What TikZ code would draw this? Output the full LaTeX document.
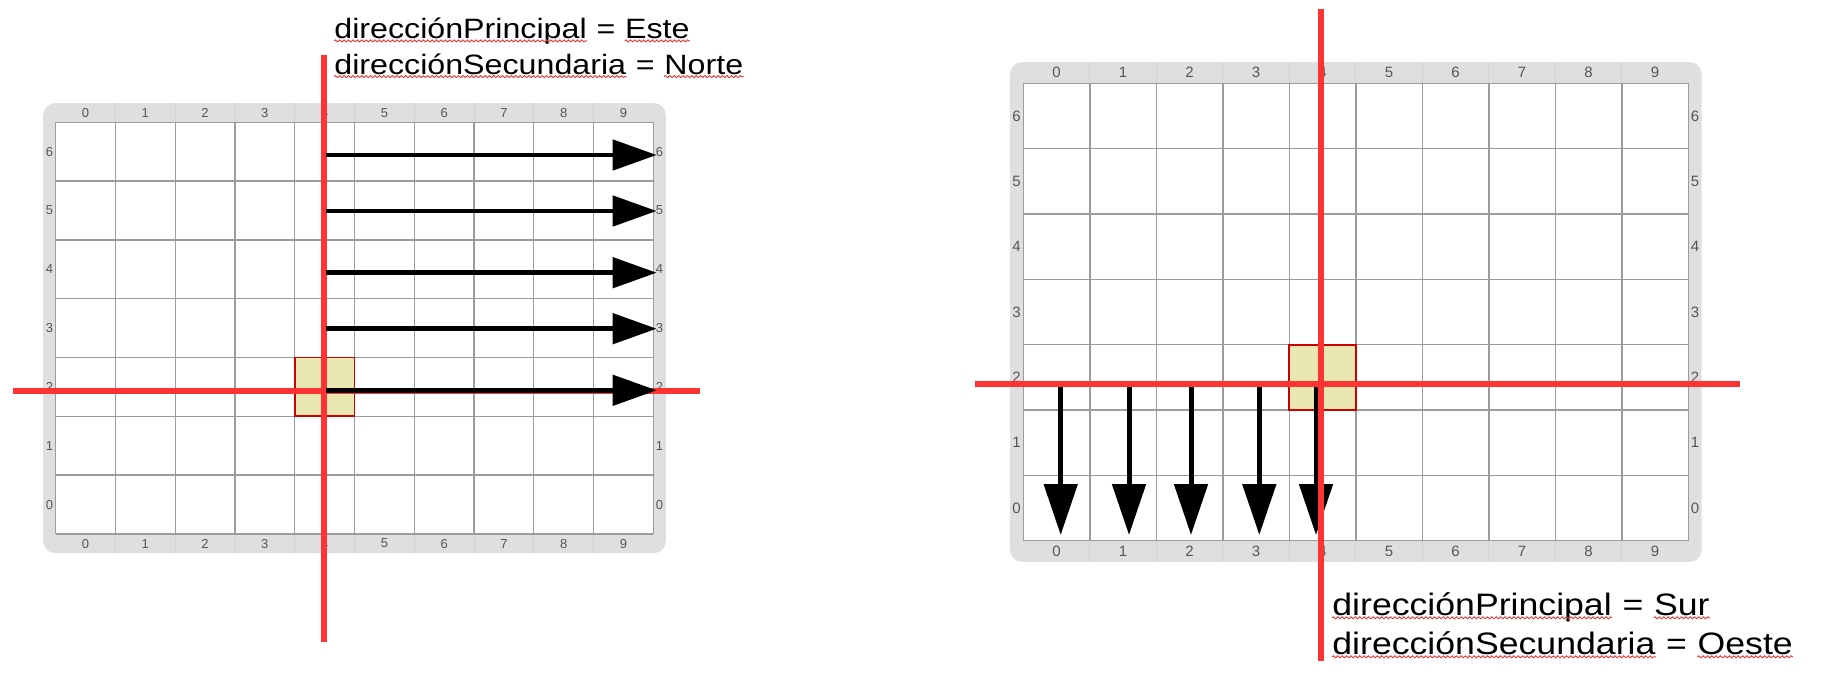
\documentclass[tikz,border=0pt]{standalone}
\usepackage{fontspec}
\setmainfont{Liberation Sans}
\newfontfamily\wfont[FakeStretch=1.15]{Liberation Sans}
\usetikzlibrary{arrows.meta,decorations.pathmorphing}
\definecolor{redl}{HTML}{FF3333}
\definecolor{bandgray}{HTML}{DFDFDF}
\definecolor{bandsep}{HTML}{D2D2D2}
\definecolor{gridgray}{HTML}{9C9C9C}
\definecolor{cellyellow}{HTML}{EAE8B0}
\definecolor{celledge}{HTML}{CC0000}
\definecolor{labgray}{HTML}{555555}
\definecolor{squigred}{HTML}{E53935}
\tikzset{
  redline/.style={draw=redl, line width=2.8pt},
  gridline/.style={draw=gridgray, line width=0.7pt},
  bandline/.style={draw=bandsep, line width=0.4pt},
  bandfill/.style={fill=bandgray, rounded corners=6pt},
  cellbox/.style={fill=cellyellow, draw=celledge, line width=0.9pt},
  numlab/.style={text=labgray, inner sep=0pt, font=\fontsize{#1}{#1}\selectfont},
  arrA/.style={line width=2.4pt, -{Triangle[length=22pt,width=15pt]}},
  arrB/.style={line width=2.5pt, -{Triangle[length=25.5pt,width=16.5pt]}},
  wordA/.style={inner sep=0pt, anchor=base west, font=\wfont\fontsize{14}{16}\selectfont},
  wordB/.style={inner sep=0pt, anchor=base west, font=\wfont\fontsize{15.5}{18}\selectfont},
  squiggle/.style={draw=squigred, line width=0.45pt, decorate,
    decoration={snake, amplitude=0.5pt, segment length=2.2pt}},
}
% #1 name, #2 x0, #3 y0, #4 cell width, #5 row height, #6 side band, #7 top band, #8 font size
\newcommand\mygrid[8]{%
  \fill[bandfill] ({#2-#6},{#3-#7}) rectangle ({#2+10*#4+#6},{#3+7*#5+#7});
  \fill[white] (#2,#3) rectangle ({#2+10*#4},{#3+7*#5});
  \foreach \i in {1,...,9}{
    \draw[bandline] ({#2+\i*#4},{#3-#7}) -- ({#2+\i*#4},#3);
    \draw[bandline] ({#2+\i*#4},{#3+7*#5}) -- ({#2+\i*#4},{#3+7*#5+#7});
  }
  \foreach \i in {0,...,10}{
    \draw[gridline] ({#2+\i*#4},#3) -- ({#2+\i*#4},{#3+7*#5});
  }
  \foreach \j in {0,...,7}{
    \draw[gridline] (#2,{#3+\j*#5}) -- ({#2+10*#4},{#3+\j*#5});
  }
  \foreach \i in {0,...,9}{
    \node[numlab=#8] (#1-t\i) at ({#2+(\i+0.5)*#4},{#3-#7/2}) {\i};
    \node[numlab=#8] (#1-b\i) at ({#2+(\i+0.5)*#4},{#3+7*#5+#7/2}) {\i};
  }
  \foreach \j in {0,...,6}{
    \node[numlab=#8] (#1-l\j) at ({#2-#6/2},{#3+(6.5-\j)*#5}) {\j};
    \node[numlab=#8] (#1-r\j) at ({#2+10*#4+#6/2},{#3+(6.5-\j)*#5}) {\j};
  }
}
\begin{document}
\begin{tikzpicture}[x=0.5pt,y=-0.5pt]
\useasboundingbox (0,0) rectangle (1821,686);
\fill[white] (0,0) rectangle (1821,686);

% ---------------- left picture ----------------
\mygrid{L}{55.7}{122.3}{59.76}{58.81}{12.5}{19.2}{6.5}
\draw[cellbox] (294.74,357.54) rectangle (354.5,416.35);
\coordinate (Lv1) at (324,55);
\coordinate (Lv2) at (324,641.7);
\coordinate (Lh1) at (12.7,391);
\coordinate (Lh2) at (700,391);
\draw[redline] (Lv1) -- (Lv2);
\draw[redline] (Lh1) -- (Lh2);
\foreach \k/\yy in {1/155,2/211,3/272.7,4/328.7,5/390.3}{
  \coordinate (La\k s) at (326,\yy);
  \coordinate (La\k e) at (656.7,\yy);
  \draw[arrA] (La\k s) -- (La\k e);
}
\node[wordA] (t1a) at (334,38.3) {direcciónPrincipal};
\node[wordA] (t1b) at (t1a.base east) {~=~\null};
\node[wordA] (t1c) at (t1b.base east) {Este};
\node[wordA] (t2a) at (334,74) {direcciónSecundaria};
\node[wordA] (t2b) at (t2a.base east) {~=~\null};
\node[wordA] (t2c) at (t2b.base east) {Norte};
\foreach \w in {t1a,t1c,t2a,t2c}{
  \draw[squiggle] ([yshift=-1.3pt]\w.base west) -- ([yshift=-1.3pt]\w.base east);
}

% ---------------- right picture ----------------
\mygrid{R}{1023.3}{83.3}{66.5}{65.34}{13.3}{21.2}{7.5}
\draw[cellbox] (1289.3,344.66) rectangle (1355.8,410);
\foreach \k/\xx in {1/1060.7,2/1129,3/1191,4/1259.3,5/1316}{
  \coordinate (Ra\k s) at (\xx,382.3);
  \coordinate (Ra\k e) at (\xx,535);
  \draw[arrB] (Ra\k s) -- (Ra\k e);
}
\coordinate (Rv1) at (1320.7,9.3);
\coordinate (Rv2) at (1320.7,661);
\coordinate (Rh1) at (975,383.8);
\coordinate (Rh2) at (1740,383.8);
\draw[redline] (Rv1) -- (Rv2);
\draw[redline] (Rh1) -- (Rh2);
\node[wordB] (s1a) at (1332,615) {direcciónPrincipal};
\node[wordB] (s1b) at (s1a.base east) {~=~\null};
\node[wordB] (s1c) at (s1b.base east) {Sur};
\node[wordB] (s2a) at (1332,654) {direcciónSecundaria};
\node[wordB] (s2b) at (s2a.base east) {~=~\null};
\node[wordB] (s2c) at (s2b.base east) {Oeste};
\foreach \w in {s1a,s1c,s2a,s2c}{
  \draw[squiggle] ([yshift=-1.4pt]\w.base west) -- ([yshift=-1.4pt]\w.base east);
}
\end{tikzpicture}
\end{document}
